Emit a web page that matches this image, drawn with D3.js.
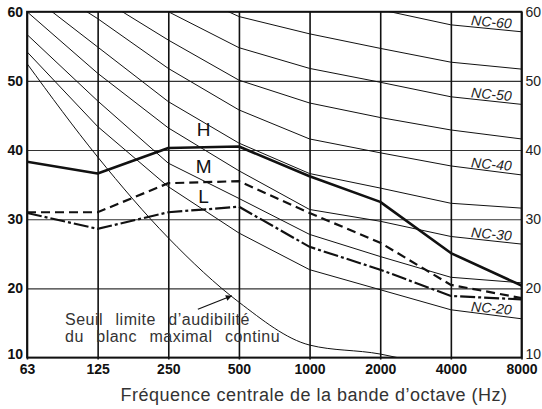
<!DOCTYPE html>
<html>
<head>
<meta charset="utf-8">
<script src="https://cdn.jsdelivr.net/npm/d3@7/dist/d3.min.js"></script>
<style>
  body { margin: 0; background: #fff; }
  svg { display: block; }
</style>
</head>
<body>
<div id="chart"></div>
<script>
// bandes d'octave (Hz) et graduations
const freqs = ["63", "125", "250", "500", "1000", "2000", "4000", "8000"];
const yTicks = [10, 20, 30, 40, 50, 60];

// courbes NC (dB)
const nc20 = [54.2, 43.4, 34.7, 28.0, 22.7, 19.8, 16.9, 15.6];
const nc25 = [56.7, 47.1, 38.1, 33.0, 27.8, 24.6, 21.6, 20.8];
const nc30 = [60.0, 51.1, 43.2, 37.0, 31.4, 29.7, 27.5, 26.4];
const nc35 = [62.8, 54.9, 47.0, 41.0, 36.6, 34.5, 32.3, 31.6];
const nc40 = [65.5, 59.0, 51.8, 45.8, 41.6, 39.6, 37.7, 36.4];
const nc45 = [69.0, 62.2, 55.9, 50.1, 46.8, 44.7, 42.9, 41.6];
const nc50 = [73.0, 66.5, 60.0, 54.8, 51.8, 49.8, 47.7, 46.6];
const nc55 = [77.0, 70.5, 64.0, 59.3, 56.8, 54.7, 52.7, 51.7];
const nc60 = [80.0, 74.5, 69.0, 64.5, 62.0, 60.3, 58.1, 57.1];

// seuil d'audibilité (jusqu'à 4000 Hz, passe sous 10 dB ensuite)
const seuil = [52.5, 39.0, 27.3, 18.0, 11.8, 10.5, 8.0];

// spectres mesurés
const niveauH = [38.3, 36.6, 40.3, 40.5, 36.2, 32.5, 25.1, 20.4];
const niveauM = [31.0, 31.0, 35.2, 35.5, 30.9, 26.6, 20.5, 18.6];
const niveauL = [30.9, 28.6, 31.0, 31.8, 26.0, 22.7, 18.9, 18.4];

const width = 542, height = 409;

const svg = d3.select("#chart").append("svg")
  .attr("width", width)
  .attr("height", height);

const x = d3.scalePoint().domain(freqs).range([27, 521.5]);
const y = d3.scaleLinear().domain([10, 60]).range([357.5, 11.7]);

const x0 = x.range()[0], x1 = x.range()[1];
const yTop = y(60), yBot = y(10);

// grille horizontale
svg.append("g")
  .attr("transform", `translate(${x0},0)`)
  .call(d3.axisLeft(y).tickValues(yTicks).tickSize(-(x1 - x0)).tickFormat(""))
  .call(g => g.select(".domain").remove())
  .call(g => g.selectAll("line").attr("stroke", "#333").attr("stroke-width", 1.1));

// grille verticale
svg.append("g")
  .attr("transform", `translate(0,${yBot + 2})`)
  .call(d3.axisBottom(x).tickSize(-(yBot - yTop + 2)).tickFormat(""))
  .call(g => g.select(".domain").remove())
  .call(g => g.selectAll("line").attr("stroke", "#111").attr("stroke-width", 1.6));

// clip de la zone de tracé
svg.append("clipPath").attr("id", "plot")
  .append("rect")
  .attr("x", x0).attr("y", yTop)
  .attr("width", x1 - x0).attr("height", yBot - yTop);

const line = d3.line()
  .x((d, i) => x(freqs[i]))
  .y(d => y(d));

const ncCurves = [
  { name: "NC-20", values: nc20, label: true },
  { name: "NC-25", values: nc25, label: false },
  { name: "NC-30", values: nc30, label: true },
  { name: "NC-35", values: nc35, label: false },
  { name: "NC-40", values: nc40, label: true },
  { name: "NC-45", values: nc45, label: false },
  { name: "NC-50", values: nc50, label: true },
  { name: "NC-55", values: nc55, label: false },
  { name: "NC-60", values: nc60, label: true }
];

const plot = svg.append("g").attr("clip-path", "url(#plot)");

plot.selectAll(".nc")
  .data(ncCurves)
  .enter().append("path")
  .attr("class", "nc")
  .attr("d", d => line(d.values))
  .attr("fill", "none")
  .attr("stroke", "#111")
  .attr("stroke-width", 1);

plot.append("path")
  .attr("d", d3.line().x((d, i) => x(freqs[i])).y(d => y(d)).curve(d3.curveMonotoneX)(seuil))
  .attr("fill", "none")
  .attr("stroke", "#111")
  .attr("stroke-width", 1);

// spectres H, M, L
plot.append("path")
  .attr("d", line(niveauH))
  .attr("fill", "none").attr("stroke", "#111")
  .attr("stroke-width", 2.6).attr("stroke-linejoin", "round");

plot.append("path")
  .attr("d", line(niveauM))
  .attr("fill", "none").attr("stroke", "#111")
  .attr("stroke-width", 2.2).attr("stroke-dasharray", "9,5");

plot.append("path")
  .attr("d", line(niveauL))
  .attr("fill", "none").attr("stroke", "#111")
  .attr("stroke-width", 2.2).attr("stroke-dasharray", "15,3,3,3");

// cadre
svg.append("rect")
  .attr("x", x0).attr("y", yTop)
  .attr("width", x1 - x0).attr("height", yBot - yTop)
  .attr("fill", "none").attr("stroke", "#111").attr("stroke-width", 1.8);

// axes : étiquettes
svg.append("g")
  .attr("transform", `translate(${x0},0)`)
  .call(d3.axisLeft(y).tickValues(yTicks).tickSize(0).tickPadding(4))
  .call(g => g.select(".domain").remove())
  .call(g => g.selectAll("text")
    .attr("font-family", "'Liberation Sans', Arial, sans-serif")
    .attr("font-size", 14).attr("font-weight", "bold").attr("fill", "#111"))
  .call(g => g.selectAll(".tick").filter(d => d === 10).select("text").attr("dy", "0.1em"));

svg.append("g")
  .attr("transform", `translate(${x1},0)`)
  .call(d3.axisRight(y).tickValues(yTicks).tickSize(0).tickPadding(4))
  .call(g => g.select(".domain").remove())
  .call(g => g.selectAll("text")
    .attr("font-family", "'Liberation Sans', Arial, sans-serif")
    .attr("font-size", 14).attr("fill", "#222"))
  .call(g => g.selectAll(".tick").filter(d => d === 10).select("text").attr("dy", "0.05em"));

svg.append("g")
  .attr("transform", `translate(0,${yBot})`)
  .call(d3.axisBottom(x).tickSize(0).tickPadding(7))
  .call(g => g.select(".domain").remove())
  .call(g => g.selectAll("text")
    .attr("font-family", "'Liberation Sans', Arial, sans-serif")
    .attr("font-size", 14).attr("font-weight", "bold").attr("fill", "#111"));

// titre de l'axe
svg.append("text")
  .attr("x", 314)
  .attr("y", 401)
  .attr("text-anchor", "middle")
  .attr("font-family", "'Liberation Sans', Arial, sans-serif")
  .attr("font-size", 18)
  .attr("letter-spacing", 0.5)
  .attr("fill", "#333")
  .text("Fréquence centrale de la bande d’octave (Hz)");

// étiquettes NC, posées sur la courbe près de 8000 Hz
const labelX = 491;
const tLab = (labelX - x("4000")) / (x("8000") - x("4000"));
svg.selectAll(".nc-label")
  .data(ncCurves.filter(d => d.label))
  .enter().append("text")
  .attr("class", "nc-label")
  .attr("transform", d => {
    const v = d.values[6] + tLab * (d.values[7] - d.values[6]);
    return `translate(${labelX},${y(v) - 2}) rotate(5)`;
  })
  .attr("text-anchor", "middle")
  .attr("font-family", "'Liberation Sans', Arial, sans-serif")
  .attr("font-style", "italic")
  .attr("font-size", 14)
  .attr("fill", "#222")
  .text(d => d.name);

// lettres H, M, L
const letters = [
  { t: "H", v: 42.0 },
  { t: "M", v: 36.7 },
  { t: "L", v: 32.4 }
];
svg.selectAll(".hml")
  .data(letters)
  .enter().append("text")
  .attr("x", x("250") + 0.5 * (x("500") - x("250")))
  .attr("y", d => y(d.v))
  .attr("text-anchor", "middle")
  .attr("font-family", "'Liberation Sans Narrow', 'Liberation Sans', Arial, sans-serif")
  .attr("font-size", 19)
  .attr("fill", "#111")
  .text(d => d.t);

// annotation du seuil
const note = svg.append("text")
  .attr("font-family", "'Liberation Sans', Arial, sans-serif")
  .attr("font-size", 16)
  .attr("letter-spacing", 0.5)
  .attr("word-spacing", 7.5)
  .attr("fill", "#333");
note.append("tspan").attr("x", 65).attr("y", 325).text("Seuil limite d’audibilité");
note.append("tspan").attr("x", 65).attr("y", 342).text("du blanc maximal continu");

svg.append("defs").append("marker")
  .attr("id", "arrow")
  .attr("viewBox", "0 0 10 10")
  .attr("refX", 10).attr("refY", 5)
  .attr("markerWidth", 11).attr("markerHeight", 6)
  .attr("markerUnits", "userSpaceOnUse")
  .attr("orient", "auto")
  .append("path")
  .attr("d", "M0,0L10,5L0,10Z")
  .attr("fill", "#111");

const tipF = 0.9;
const tipX = x("250") + tipF * (x("500") - x("250"));
const tipY = y(seuil[2] + tipF * (seuil[3] - seuil[2]));
svg.append("line")
  .attr("x1", tipX - 34).attr("y1", tipY + 13.5)
  .attr("x2", tipX).attr("y2", tipY)
  .attr("stroke", "#111").attr("stroke-width", 1.2)
  .attr("marker-end", "url(#arrow)");
</script>
</body>
</html>
